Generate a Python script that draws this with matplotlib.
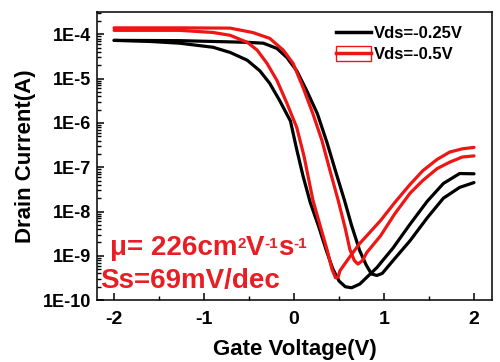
import matplotlib
matplotlib.use("Agg")
import matplotlib.pyplot as plt
from matplotlib.lines import Line2D
from matplotlib.patches import Patch
from matplotlib.legend_handler import HandlerTuple
from matplotlib.ticker import LogLocator, MultipleLocator, NullFormatter

plt.rcParams['font.family'] = ['Liberation Sans', 'DejaVu Sans']
plt.rcParams['font.weight'] = 'bold'

# Vds = -0.25 V, first sweep (lower branch)
vg_black_a = [-2.0, -1.6, -1.27, -0.9, -0.71, -0.52, -0.38, -0.27, -0.16, -0.04, 0.03,
              0.10, 0.18, 0.27, 0.36, 0.43, 0.50, 0.57, 0.64, 0.73, 0.92, 1.10,
              1.29, 1.48, 1.66, 1.84, 2.0]
id_black_a = [7.3e-5, 6.9e-5, 6.3e-5, 5.1e-5, 3.9e-5, 2.6e-5, 1.5e-5, 7.8e-6, 3.2e-6, 1.1e-6, 2.5e-7,
              6.3e-8, 1.6e-8, 4.8e-9, 1.3e-9, 5.1e-10, 2.7e-10, 2.0e-10, 1.9e-10, 2.3e-10, 5.4e-10, 1.5e-9,
              5.2e-9, 1.7e-8, 4.3e-8, 7.2e-8, 7.1e-8]

# Vds = -0.25 V, second sweep
vg_black_b = [-2.0, -1.27, -0.9, -0.52, -0.34, -0.19, -0.08, 0.03, 0.14, 0.26, 0.37,
              0.46, 0.56, 0.64, 0.73, 0.80, 0.86, 0.92, 0.98, 1.10, 1.29, 1.48,
              1.66, 1.84, 2.0]
id_black_b = [7.3e-5, 7.2e-5, 6.9e-5, 6.6e-5, 6.3e-5, 4.8e-5, 3.0e-5, 1.5e-5, 5.4e-6, 1.6e-6, 3.4e-7,
              8.3e-8, 1.8e-8, 4.8e-9, 1.3e-9, 6.3e-10, 3.9e-10, 3.6e-10, 4.0e-10, 7.8e-10, 2.2e-9, 7.2e-9,
              2.0e-8, 3.5e-8, 4.5e-8]

# Vds = -0.5 V, first sweep
vg_red_a = [-2.0, -1.27, -0.9, -0.71, -0.52, -0.41, -0.30, -0.19, -0.08, 0.03, 0.11,
            0.21, 0.29, 0.37, 0.42, 0.46, 0.49, 0.51, 0.62, 0.73, 0.96, 1.12,
            1.29, 1.43, 1.59, 1.73, 1.87, 2.0]
id_red_a = [1.23e-4, 1.23e-4, 1.1e-4, 9.5e-5, 6.6e-5, 4.4e-5, 2.2e-5, 9.1e-6, 2.8e-6, 7.9e-7, 1.8e-7,
            1.8e-8, 4.8e-9, 1.3e-9, 5.1e-10, 3.2e-10, 3.3e-10, 4.6e-10, 9.5e-10, 1.9e-9, 6.2e-9, 1.6e-8,
            4.1e-8, 8.3e-8, 1.5e-7, 2.2e-7, 2.6e-7, 2.8e-7]

# Vds = -0.5 V, second sweep
vg_red_b = [-2.0, -1.27, -0.71, -0.46, -0.27, -0.12, -0.01, 0.10, 0.21, 0.31, 0.40,
            0.49, 0.57, 0.62, 0.67, 0.71, 0.76, 0.81, 0.96, 1.12, 1.29, 1.43,
            1.59, 1.73, 1.87, 2.0]
id_red_b = [1.4e-4, 1.4e-4, 1.38e-4, 1.1e-4, 8.1e-5, 4.4e-5, 2.2e-5, 6.3e-6, 1.6e-6, 4.0e-7, 8.3e-8,
            1.8e-8, 4.1e-9, 1.4e-9, 7.8e-10, 6.5e-10, 7.8e-10, 1.2e-9, 2.8e-9, 8.9e-9, 2.6e-8, 5.0e-8,
            9.3e-8, 1.3e-7, 1.7e-7, 1.8e-7]

y_ticks = [1e-10, 1e-9, 1e-8, 1e-7, 1e-6, 1e-5, 1e-4]
y_tick_labels = ['1E-10', '1E-9', '1E-8', '1E-7', '1E-6', '1E-5', '1E-4']
x_ticks = [-2, -1, 0, 1, 2]
legend_labels = ['Vds=-0.25V', 'Vds=-0.5V']

black = '#000000'
red = '#ee1515'
text_red = '#e81e24'

fig = plt.figure(figsize=(5.0, 3.62), dpi=100)
ax = fig.add_axes([0.194, 0.171, 0.79, 0.796])

for vg, ids, col in [(vg_black_a, id_black_a, black), (vg_black_b, id_black_b, black),
                     (vg_red_a, id_red_a, red), (vg_red_b, id_red_b, red)]:
    ax.plot(vg, ids, color=col, lw=2.3, solid_capstyle='round', solid_joinstyle='round')

ax.set_yscale('log')
ax.set_xlim(-2.19, 2.2)
ax.set_ylim(1e-10, 3.2e-4)
ax.set_yticks(y_ticks)
ax.set_yticklabels(y_tick_labels)
ax.yaxis.set_minor_locator(LogLocator(base=10, subs=range(2, 10), numticks=20))
ax.yaxis.set_minor_formatter(NullFormatter())
ax.set_xticks(x_ticks)
ax.set_xticklabels([str(v) for v in x_ticks])
ax.xaxis.set_minor_locator(MultipleLocator(0.5))

ax.tick_params(which='major', direction='in', length=5, width=1.1, top=False, right=False)
ax.tick_params(which='minor', direction='in', length=3, width=1.0, top=False, right=False)
ax.tick_params(axis='y', labelsize=13, pad=4)
ax.tick_params(axis='x', labelsize=14, pad=8)
for sp in ax.spines.values():
    sp.set_linewidth(1.1)

ax.set_xlabel('Gate Voltage(V)', fontsize=16, fontweight='bold', labelpad=8)
ax.set_ylabel('Drain Current(A)', fontsize=16, fontweight='bold', labelpad=5)

# mobility annotation, built piece by piece so the superscripts stay small
big = dict(color=text_red, fontsize=20, fontweight='bold')
small = dict(color=text_red, fontsize=11, fontweight='bold')
prev = ax.text(0.033, 0.156, 'μ= 226cm', transform=ax.transAxes, va='baseline', **big)
base = prev
for main, sup in [(None, '2'), ('V', '-1'), ('s', '-1')]:
    if main is not None:
        prev = ax.annotate(main, xy=(1, 0), xycoords=(prev, base), va='bottom', ha='left', **big)
    prev = ax.annotate(sup, xy=(1, 0.93), xycoords=(prev, base), va='top', ha='left', **small)

ax.text(0.008, 0.042, 'Ss=69mV/dec', transform=ax.transAxes, va='baseline', **big)

h_black = Line2D([], [], color=black, lw=2.5)
h_red = (Patch(facecolor='none', edgecolor=red, lw=1.0), Line2D([], [], color=red, lw=2.5))
ax.legend([h_black, h_red], legend_labels, loc='upper right',
          bbox_to_anchor=(0.955, 0.995), frameon=False, fontsize=12,
          handlelength=2.1, handleheight=1.0, handletextpad=0.15, labelspacing=0.3,
          borderpad=0.2, handler_map={tuple: HandlerTuple(ndivide=1)})

fig.savefig('out.png', dpi=100)
